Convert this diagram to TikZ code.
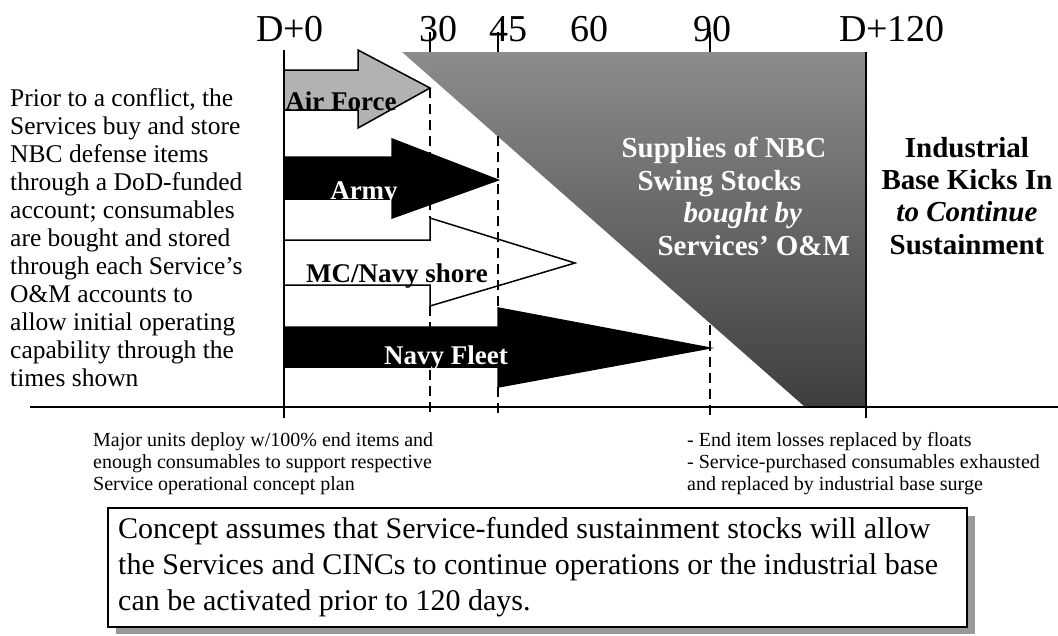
\documentclass[tikz,border=0pt]{standalone}
\usepackage{fontspec}
\setmainfont{Liberation Serif}
\newcommand{\dayfont}{\fontsize{38}{40}\selectfont}
\newcommand{\bandfont}{\fontsize{27}{30}\selectfont\bfseries}
\newcommand{\stockfont}{\fontsize{29}{32}\selectfont\bfseries}
\newcommand{\notefont}{\fontsize{20}{22}\selectfont}

\begin{document}
\begin{tikzpicture}[x=1pt,y=-1pt,
	dayline/.style={line width=2pt},
	cutoff/.style={line width=2pt,dash pattern=on 10pt off 6pt},
	band/.style={line width=1.5pt,line join=miter}]
	\definecolor{stockgray}{HTML}{8C8C8C}
	\definecolor{stockdark}{HTML}{3E3E3E}
	\definecolor{airgray}{HTML}{B2B2B2}
	\useasboundingbox (0,0) rectangle (1058,635);
	
	% swing stocks
	\shade[top color=stockgray,bottom color=stockdark] (402,52) -- (866,52) -- (866,407) -- (805,407) -- cycle;
	
	% service arrows
	\draw[band,fill=airgray] (284,70) -- (358,70) -- (358,50) -- (430,88) -- (358,128) -- (358,110) -- (284,110) -- cycle;
	\draw[band,fill=black] (284,157) -- (392,157) -- (392,139) -- (498,180) -- (392,218) -- (392,199) -- (284,199) -- cycle;
	\draw[band,fill=white] (284,240) -- (430,240) -- (430,218) -- (575,263) -- (430,306) -- (430,285) -- (284,285) -- cycle;
	\draw[band,fill=black] (284,327) -- (498,327) -- (498,308) -- (710,348) -- (498,387) -- (498,367) -- (284,367) -- cycle;
	
	% cut-off days
	\draw[cutoff] (430,88) -- (430,218);
	\draw[cutoff] (430,306) -- (430,418);
	\draw[cutoff] (498,136) -- (498,308);
	\draw[cutoff] (498,387) -- (498,418);
	\draw[cutoff] (710,325) -- (710,418);
	
	% time axis
	\draw[dayline] (284,50) -- (284,418);
	\draw[dayline] (866,52) -- (866,418);
	\draw[dayline] (30,407) -- (1058,407);
	\foreach \x in {430,498,710}
		\draw[line width=1.5pt] (\x,32) -- (\x,52);
	
	% labels
	\node[font=\dayfont,anchor=base] (d0) at (290,41) {D+0};
	\node[font=\dayfont,anchor=base] (d30) at (438,41) {30};
	\node[font=\dayfont,anchor=base] (d45) at (508,41) {45};
	\node[font=\dayfont,anchor=base] (d60) at (589,41) {60};
	\node[font=\dayfont,anchor=base] (d90) at (712,41) {90};
	\node[font=\dayfont,anchor=base] (d120) at (892,41) {D+120};
	
	\node[font=\bandfont,anchor=base] (airforce) at (341,110) {Air Force};
	\node[font=\bandfont,text=white,anchor=base] (army) at (364,199) {Army};
	\node[font=\bandfont,anchor=base] (mcnavy) at (397,282) {MC/Navy shore};
	\node[font=\bandfont,text=white,anchor=base] (navyfleet) at (446,364) {Navy Fleet};
	
	\node[font=\stockfont,text=white,anchor=base west] (stock1) at (618,157) {Supplies of NBC};
	\node[font=\stockfont,text=white,anchor=base west] (stock2) at (634,190) {Swing Stocks};
	\node[font=\stockfont,text=white,anchor=base west] (stock3) at (680,222) {\textit{bought by}};
	\node[font=\stockfont,text=white,anchor=base west] (stock4) at (654,255) {Services' O\&M};
	
	\node[font=\fontsize{29}{32.3}\selectfont\bfseries,align=center,anchor=north,inner sep=0] (industry) at (967,137) {Industrial\\Base Kicks In\\\textit{to Continue}\\Sustainment};
	
	\node[font=\fontsize{25.5}{28}\selectfont,align=left,anchor=north west,inner sep=0] (prior) at (10,88) {
		Prior to a conflict, the\\
		Services buy and store\\
		NBC defense items\\
		through a DoD-funded\\
		account; consumables\\
		are bought and stored\\
		through each Service's\\
		O\&M accounts to\\
		allow initial operating\\
		capability through the\\
		times shown};
	
	\node[font=\notefont,align=left,anchor=north west,inner sep=0] (deploy) at (93,432) {
		Major units deploy w/100\% end items and\\
		enough consumables to support respective\\
		Service operational concept plan};
	\node[font=\notefont,align=left,anchor=north west,inner sep=0] (surge) at (687,432) {
		- End item losses replaced by floats\\
		- Service-purchased consumables exhausted\\
		and replaced by industrial base surge};
	
	% concept box
	\fill[black!40] (116,516) rectangle (975,634);
	\draw[line width=1.5pt,fill=white] (108,508) rectangle (967,627);
	\node[font=\fontsize{30}{36}\selectfont,align=left,anchor=north west,inner sep=0] (concept) at (118,517) {
		Concept assumes that Service-funded sustainment stocks will allow\\
		the Services and CINCs to continue operations or the industrial base\\
		can be activated prior to 120 days.};
\end{tikzpicture}
\end{document}
